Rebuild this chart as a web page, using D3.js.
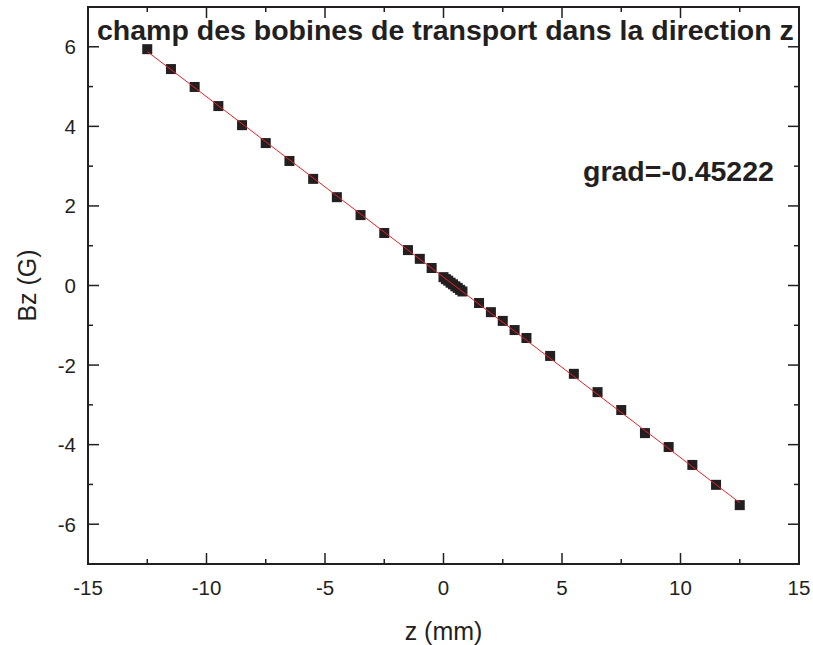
<!DOCTYPE html>
<html><head><meta charset="utf-8">
<script src="https://cdn.jsdelivr.net/npm/d3@7"></script>
<style>body{margin:0;background:#fff}svg{display:block}text{font-family:"Liberation Sans",Arial,sans-serif;fill:#231f20}</style>
</head><body><svg id="c" width="813" height="645"></svg>
<script>
const zValues = [-12.5,-11.5,-10.5,-9.5,-8.5,-7.5,-6.5,-5.5,-4.5,-3.5,-2.5,-1.5,-1,-0.5,0,0.1,0.2,0.3,0.4,0.5,0.6,0.7,0.8,1.5,2,2.5,3,3.5,4.5,5.5,6.5,7.5,8.5,9.5,10.5,11.5,12.5];
const bzValues = [5.94,5.44,4.99,4.51,4.03,3.58,3.13,2.68,2.22,1.77,1.32,0.89,0.67,0.44,0.21,0.16,0.12,0.07,0.03,-0.02,-0.06,-0.11,-0.15,-0.44,-0.67,-0.89,-1.12,-1.32,-1.77,-2.22,-2.68,-3.13,-3.71,-4.06,-4.51,-5.01,-5.52];
const fitZ = [-12.5, 12.5];
const fitBz = [5.88, -5.46];
const xTicks = [-15,-10,-5,0,5,10,15];
const yTicks = [-6,-4,-2,0,2,4,6];
const titleText = "champ des bobines de transport dans la direction z";
const gradText = "grad=-0.45222";

const svg = d3.select("#c");
const L = 88, R = 799, T = 7, B = 564;
const x = d3.scaleLinear().domain([-15, 15]).range([L, R]);
const y = d3.scaleLinear().domain([-7, 7]).range([B, T]);
const ink = "#231f20";

const xMinor = d3.range(-15, 15.01, 2.5);
const yMinor = d3.range(-7, 7.01, 1);

function ticks(g, vals, len, orient) {
  g.selectAll(null).data(vals).enter().append("line")
    .attr("stroke", ink).attr("stroke-width", 1.5)
    .attr("x1", d => orient==="bottom"||orient==="top" ? x(d) : (orient==="left" ? L : R))
    .attr("x2", d => orient==="bottom"||orient==="top" ? x(d) : (orient==="left" ? L+len : R-len))
    .attr("y1", d => orient==="left"||orient==="right" ? y(d) : (orient==="bottom" ? B : T))
    .attr("y2", d => orient==="left"||orient==="right" ? y(d) : (orient==="bottom" ? B-len : T+len));
}
const tg = svg.append("g");
["bottom","top"].forEach(o => { ticks(tg, xMinor.filter(v => !xTicks.includes(v)), 5, o); ticks(tg, xTicks, 11, o); });
["left","right"].forEach(o => { ticks(tg, yMinor.filter(v => !yTicks.includes(v)), 5, o); ticks(tg, yTicks, 11, o); });

svg.append("rect").attr("x", L).attr("y", T).attr("width", R-L).attr("height", B-T)
  .attr("fill", "none").attr("stroke", ink).attr("stroke-width", 2);

svg.append("g").selectAll("text").data(xTicks).enter().append("text")
  .attr("x", d => x(d)).attr("y", 595).attr("text-anchor", "middle")
  .attr("font-size", 20.5).text(d => d);
svg.append("g").selectAll("text").data(yTicks).enter().append("text")
  .attr("x", 76).attr("y", d => y(d) + 7.5).attr("text-anchor", "end")
  .attr("font-size", 20.5).text(d => d);

svg.append("text").attr("x", x(0)).attr("y", 640).attr("text-anchor", "middle")
  .attr("font-size", 25).text("z (mm)");
svg.append("text").attr("transform", `translate(36,${y(0)}) rotate(-90)`).attr("text-anchor", "middle")
  .attr("font-size", 25).text("Bz (G)");

const line = d3.line().x(d => x(d[0])).y(d => y(d[1]));
const pts = d3.zip(zValues, bzValues);
svg.append("g").selectAll("rect").data(pts).enter().append("rect")
  .attr("x", d => x(d[0]) - 5).attr("y", d => y(d[1]) - 5)
  .attr("width", 10).attr("height", 10).attr("fill", ink);
svg.append("path").datum(d3.zip(fitZ, fitBz)).attr("d", line)
  .attr("stroke", "#e8202a").attr("stroke-width", 1).attr("fill", "none");

svg.append("text").attr("x", 97).attr("y", 40).attr("font-size", 28.5).attr("font-weight", "bold").text(titleText);
svg.append("text").attr("x", 583).attr("y", 181).attr("font-size", 28.5).attr("font-weight", "bold").text(gradText);
</script></body></html>
